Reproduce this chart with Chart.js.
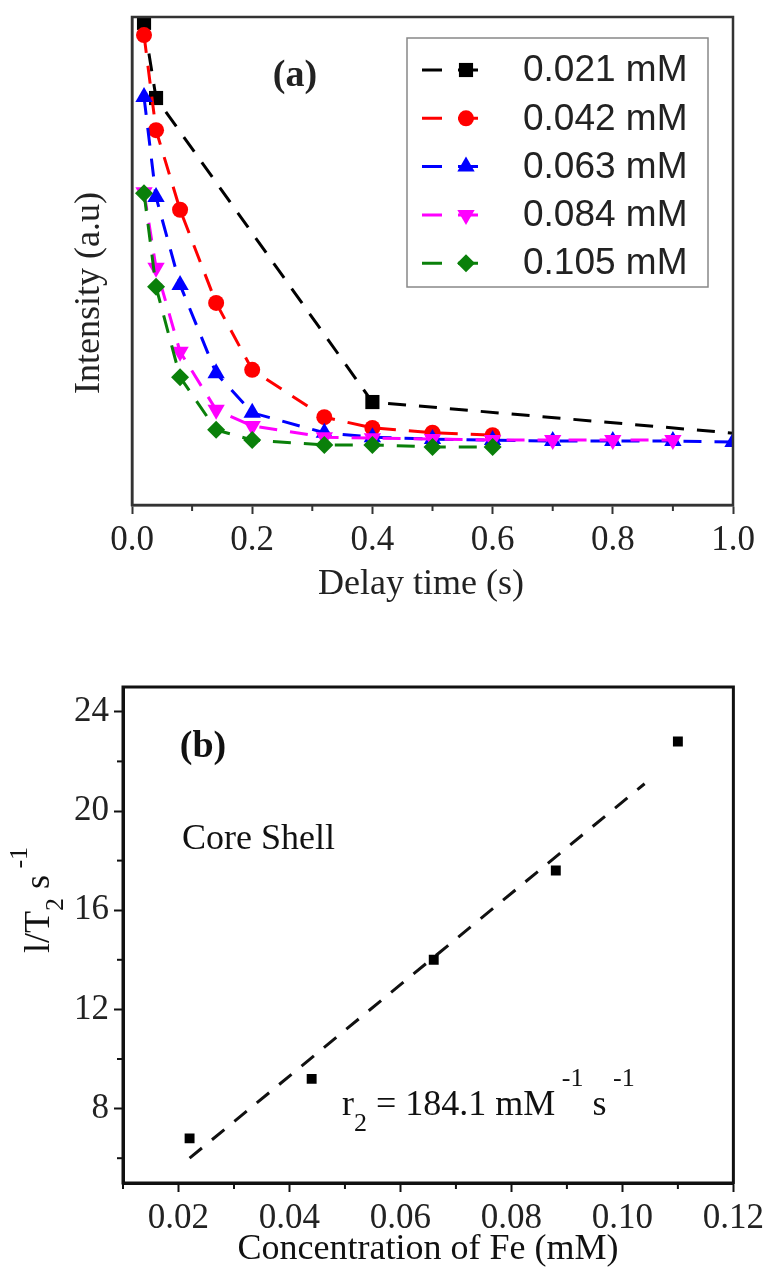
<!DOCTYPE html>
<html>
<head>
<meta charset="utf-8">
<script src="https://cdn.jsdelivr.net/npm/chart.js@4.4.1/dist/chart.umd.min.js"></script>
<style>
body{margin:0;background:#fff;width:770px;height:1278px;overflow:hidden;}
#topChart{position:absolute;left:0;top:0;}
#bottomChart{position:absolute;left:0;top:640px;}
</style>
</head>
<body>
<canvas id="topChart" width="770" height="640"></canvas>
<canvas id="bottomChart" width="770" height="638"></canvas>
<script>
// (a) T2 decay, intensity in arbitrary units
const delayTimes = [0.02,0.04,0.08,0.14,0.2,0.32,0.4,0.5,0.6,0.7,0.8,0.9,1.0];
const blackTimes = [0.02,0.04,0.4,1.2];
const int021 = [98.8,83.4,21.1,12.6];
const int042 = [96.3,76.8,60.5,41.4,27.7,18.0,15.8,14.8,14.3];
const int063 = [83.6,63.1,45.1,27.0,18.9,14.8,13.9,13.5,13.3,13.1,13.1,13.1,12.9];
const int084 = [64.1,48.6,31.4,19.5,16.2,13.9,13.7,13.5,13.3,13.3,13.3,13.3];
const int105 = [63.9,44.7,26.2,15.4,13.3,12.3,12.3,11.9,11.9];
const seriesNames = ['0.021 mM','0.042 mM','0.063 mM','0.084 mM','0.105 mM'];
const delayTicks = [0,0.2,0.4,0.6,0.8,1.0];

// (b) 1/T2 vs Fe concentration
const feConc = [0.022,0.044,0.066,0.088,0.110];
const rateT2 = [6.8,9.2,14.0,17.6,22.8];
const fitConc = [0.022,0.104];
const fitRate = [6.0,21.1];
const concTicks = [0.02,0.04,0.06,0.08,0.10,0.12];
const rateTicks = [8,12,16,20,24];

const serif = '"Liberation Serif", "Times New Roman", serif';
const sans = '"Liberation Sans", Arial, sans-serif';
const colors = ['#000000','#ff0000','#0000ff','#ff00ff','#0a800a'];
const markers = ['rect','circle','triangle','triangle','rectRot'];
const rotations = [0,0,0,180,0];
const radii = [10,8,10,10,9];

function pts(xs, ys){ return ys.map((y,i)=>({x:xs[i], y:y})); }

function drawFrame(chart, w, color){
    const a = chart.chartArea, ctx = chart.ctx;
    ctx.save();
    ctx.strokeStyle = color; ctx.lineWidth = w;
    ctx.strokeRect(a.left, a.top, a.right-a.left, a.bottom-a.top);
    ctx.restore();
}

// short ticks half way between the labelled ones
function minorTicks(chart, axis, len, color){
    const s = chart.scales[axis], ctx = chart.ctx, a = chart.chartArea;
    const vals = s.ticks.map(t=>t.value);
    const step = vals[1]-vals[0];
    ctx.save();
    ctx.strokeStyle = color; ctx.lineWidth = 2;
    for(let v = vals[0]-step/2; v <= s.max+1e-9; v += step){
        if(v < s.min-1e-9) continue;
        const p = s.getPixelForValue(v);
        ctx.beginPath();
        if(axis==='x'){ ctx.moveTo(p,a.bottom); ctx.lineTo(p,a.bottom+len); }
        else { ctx.moveTo(a.left,p); ctx.lineTo(a.left-len,p); }
        ctx.stroke();
    }
    ctx.restore();
}

// text made of pieces: [text, size, dy]
function richWidth(ctx, parts){
    let w = 0;
    parts.forEach(([t,size])=>{ ctx.font = size+'px '+serif; w += ctx.measureText(t).width; });
    return w;
}
function richText(ctx, parts, x, y){
    let cx = x;
    parts.forEach(([t,size,dy])=>{
        ctx.font = size+'px '+serif;
        ctx.fillText(t, cx, y+dy);
        cx += ctx.measureText(t).width;
    });
}

// ---------- chart (a) ----------
const topSets = [
    pts(blackTimes,int021), pts(delayTimes,int042), pts(delayTimes,int063),
    pts(delayTimes,int084), pts(delayTimes,int105)
].map((d,i)=>({
    label: seriesNames[i],
    data: d,
    order: 5-i,
    borderColor: colors[i],
    backgroundColor: colors[i],
    borderWidth: 3,
    borderDash: [18,13],
    pointStyle: markers[i],
    rotation: rotations[i],
    pointRadius: radii[i],
    pointBorderWidth: 0,
    pointBackgroundColor: colors[i],
    tension: 0
}));

const topDecor = {
    id:'topDecor',
    afterDraw(chart){
        const ctx = chart.ctx;
        drawFrame(chart, 2.5, '#333');
        minorTicks(chart, 'x', 6, '#333');

        // legend
        ctx.save();
        ctx.fillStyle = '#fff';
        ctx.fillRect(407,38,301,249);
        ctx.strokeStyle = '#888'; ctx.lineWidth = 1.5;
        ctx.strokeRect(407,38,301,249);
        seriesNames.forEach((name,i)=>{
            const y = 70 + i*48.3;
            ctx.strokeStyle = colors[i]; ctx.lineWidth = 3;
            ctx.setLineDash([20,16]);
            ctx.beginPath(); ctx.moveTo(422,y); ctx.lineTo(490,y); ctx.stroke();
            ctx.setLineDash([]);
            ctx.fillStyle = colors[i];
            Chart.helpers.drawPoint(ctx, {pointStyle:markers[i], rotation:rotations[i], radius:radii[i], borderWidth:0}, 466, y);
            ctx.fillStyle = '#222';
            ctx.font = '37px '+sans;
            ctx.textBaseline = 'middle'; ctx.textAlign = 'left';
            ctx.fillText(name, 523, y+1);
        });

        ctx.fillStyle = '#222';
        ctx.textAlign = 'center'; ctx.textBaseline = 'middle';
        ctx.font = 'bold 38px '+serif;
        ctx.fillText('(a)', 295, 76);
        ctx.font = '36px '+serif;
        ctx.fillText('Delay time (s)', 421, 585);
        ctx.translate(90, 293);
        ctx.rotate(-Math.PI/2);
        ctx.fillText('Intensity (a.u)', 0, 0);
        ctx.restore();
    }
};

new Chart(document.getElementById('topChart'), {
    type:'line',
    data:{ datasets: topSets },
    options:{
        responsive:false,
        animation:false,
        layout:{ padding:{left:0, right:37, top:17, bottom:0} },
        plugins:{ legend:{display:false}, tooltip:{enabled:false} },
        scales:{
            x:{
                type:'linear', min:0, max:1,
                afterBuildTicks: s=>{ s.ticks = delayTicks.map(v=>({value:v})); },
                afterFit: s=>{ s.height = 135; },
                grid:{drawOnChartArea:false, tickLength:9, tickWidth:2, tickColor:'#333'},
                border:{color:'#333', width:2.5},
                ticks:{font:{family:serif, size:35}, color:'#222', padding:6, maxRotation:0,
                       callback: v=>Number(v).toFixed(1)}
            },
            y:{
                type:'linear', min:0, max:100,
                afterFit: s=>{ s.width = 132; },
                ticks:{display:false},
                grid:{display:false},
                border:{color:'#333', width:2.5}
            }
        }
    },
    plugins:[topDecor]
});

// ---------- chart (b) ----------
const bottomDecor = {
    id:'bottomDecor',
    afterDraw(chart){
        const ctx = chart.ctx;
        drawFrame(chart, 3, '#111');
        minorTicks(chart, 'x', 6, '#111');
        minorTicks(chart, 'y', 6, '#111');

        ctx.save();
        ctx.fillStyle = '#111';
        ctx.textAlign = 'center'; ctx.textBaseline = 'middle';
        ctx.font = 'bold 38px '+serif;
        ctx.fillText('(b)', 203, 107);
        ctx.font = '36px '+serif;
        ctx.textAlign = 'left';
        ctx.fillText('Core Shell', 182, 200);
        ctx.textAlign = 'center';
        ctx.fillText('Concentration of Fe (mM)', 428, 610);

        ctx.textAlign = 'left'; ctx.textBaseline = 'alphabetic';
        richText(ctx, [['r',36,0],['2',26,16],[' = 184.1 mM',36,0],[' -1',26,-29],[' s',36,0],[' -1',26,-29]], 342, 475);

        const yTitle = [['l/T',36,0],['2',26,14],[' s',36,0],[' -1',26,-22]];
        const w = richWidth(ctx, yTitle);
        ctx.translate(37, 260);
        ctx.rotate(-Math.PI/2);
        richText(ctx, yTitle, -w/2, 12);
        ctx.restore();
    }
};

new Chart(document.getElementById('bottomChart'), {
    type:'scatter',
    data:{
        datasets:[
            {
                type:'scatter',
                data: pts(feConc, rateT2),
                pointStyle:'rect',
                pointRadius:7,
                pointBorderWidth:0,
                backgroundColor:'#000',
                borderColor:'#000'
            },
            {
                type:'line',
                data: pts(fitConc, fitRate),
                borderColor:'#111',
                borderWidth:3,
                borderDash:[16,13],
                pointRadius:0,
                fill:false
            }
        ]
    },
    options:{
        responsive:false,
        animation:false,
        layout:{ padding:{left:0, right:36, top:47, bottom:0} },
        plugins:{ legend:{display:false}, tooltip:{enabled:false} },
        scales:{
            x:{
                type:'linear', min:0.01, max:0.12,
                afterBuildTicks: s=>{ s.ticks = concTicks.map(v=>({value:v})); },
                afterFit: s=>{ s.height = 95; },
                grid:{drawOnChartArea:false, tickLength:9, tickWidth:2, tickColor:'#111'},
                border:{color:'#111', width:3},
                ticks:{font:{family:serif, size:35}, color:'#222', padding:6, maxRotation:0,
                       callback: v=>Number(v).toFixed(2)}
            },
            y:{
                type:'linear', min:5, max:25,
                afterBuildTicks: s=>{ s.ticks = rateTicks.map(v=>({value:v})); },
                afterFit: s=>{ s.width = 123; },
                grid:{drawOnChartArea:false, tickLength:9, tickWidth:2, tickColor:'#111'},
                border:{color:'#111', width:3},
                ticks:{font:{family:serif, size:35}, color:'#222', padding:5,
                       callback: v=>String(v)}
            }
        }
    },
    plugins:[bottomDecor]
});
</script>
</body>
</html>
